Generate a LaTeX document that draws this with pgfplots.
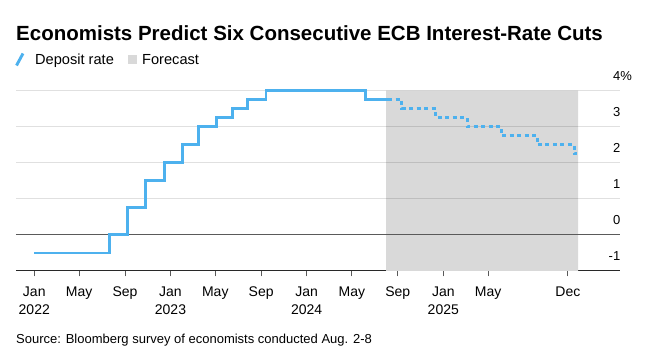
\documentclass[border=0pt]{standalone}
\usepackage{fontspec}
\setmainfont{Liberation Sans}
\usepackage{pgfplots}
\pgfplotsset{compat=1.18}
\definecolor{rateblue}{RGB}{77,177,238}
\definecolor{shadegray}{RGB}{217,217,217}
\definecolor{zerogray}{RGB}{90,90,90}
\definecolor{axisdark}{RGB}{40,40,40}
\begin{document}
\begin{tikzpicture}
\path[use as bounding box] (0pt,0pt) rectangle (649pt,363pt);
\node[anchor=base west, inner sep=0pt, font=\fontsize{20.5}{24}\selectfont\bfseries] at (16pt,322pt) {Economists Predict Six Consecutive ECB Interest-Rate Cuts};
\draw[rateblue, line width=2.9pt] (16.5pt,297.5pt) -- (23pt,309.5pt);
\node[anchor=base west, inner sep=0pt, font=\fontsize{14.6}{16}\selectfont] at (35pt,298.5pt) {Deposit rate};
\fill[shadegray] (128pt,299pt) rectangle (137pt,308pt);
\node[anchor=base west, inner sep=0pt, font=\fontsize{14.6}{16}\selectfont] at (142pt,298.5pt) {Forecast};
\node[anchor=base west, inner sep=0pt, font=\fontsize{13}{16}\selectfont] at (16pt,19pt) {Source: Bloomberg survey of economists conducted Aug. 2-8};
\begin{axis}[
  at={(16pt,92pt)}, anchor=south west,
  scale only axis, width=604pt, height=180.3pt,
  xmin=-49, xmax=1569.5, ymin=-1, ymax=4,
  clip=false,
  axis x line*=bottom, axis y line*=right,
  x axis line style={axisdark, line width=1pt},
  y axis line style={draw=none},
  xtick={0,120,243,365,485,608,730,851,974,1096,1216,1430},
  xticklabels={{Jan\\2022},May,Sep,{Jan\\2023},May,Sep,{Jan\\2024},May,Sep,{Jan\\2025},May,Dec},
  xtick style={draw=black!65, line width=0.9pt},
  tick align=outside, major tick length=5.5pt,
  xticklabel style={align=center, anchor=north, inner sep=0pt, yshift=-10pt, font=\fontsize{14}{18.6}\selectfont},
  ytick={-1,0,1,2,3,4},
  yticklabels={-1,0,1,2,3,4\rlap{\%}},
  ytick style={draw=none},
  yticklabel style={anchor=base east, inner sep=0pt, xshift=-5pt, yshift=10pt, font=\fontsize{13}{15}\selectfont},
]
\addplot[draw=none, fill=shadegray] coordinates {(943,-1) (943,4) (1457,4) (1457,-1) (943,-1)};
\addplot[black, draw opacity=0.12, line width=0.8pt] coordinates {(-49,1) (1569.5,1)};
\addplot[black, draw opacity=0.12, line width=0.8pt] coordinates {(-49,2) (1569.5,2)};
\addplot[black, draw opacity=0.12, line width=0.8pt] coordinates {(-49,3) (1569.5,3)};
\addplot[black, draw opacity=0.12, line width=0.8pt] coordinates {(-49,4) (1569.5,4)};
\addplot[zerogray, line width=1pt] coordinates {(-49,0) (1569.5,0)};
\addplot[const plot, rateblue, line width=2.9pt, line join=miter] coordinates {
(0,-0.5) (201,0) (250,0.75) (299,1.5) (348,2) (397,2.5) (439,3) (488,3.25) (530,3.5) (572,3.75) (621,4) (887,3.75) (948,3.75)};
\addplot[const plot, rateblue, line width=2.9pt, dash pattern=on 4pt off 3.5pt] coordinates {
(948,3.75) (985,3.5) (1076,3.25) (1160,3.0) (1251,2.75) (1349,2.5) (1447,2.25) (1455,2.25)};
\end{axis}
\end{tikzpicture}
\end{document}
